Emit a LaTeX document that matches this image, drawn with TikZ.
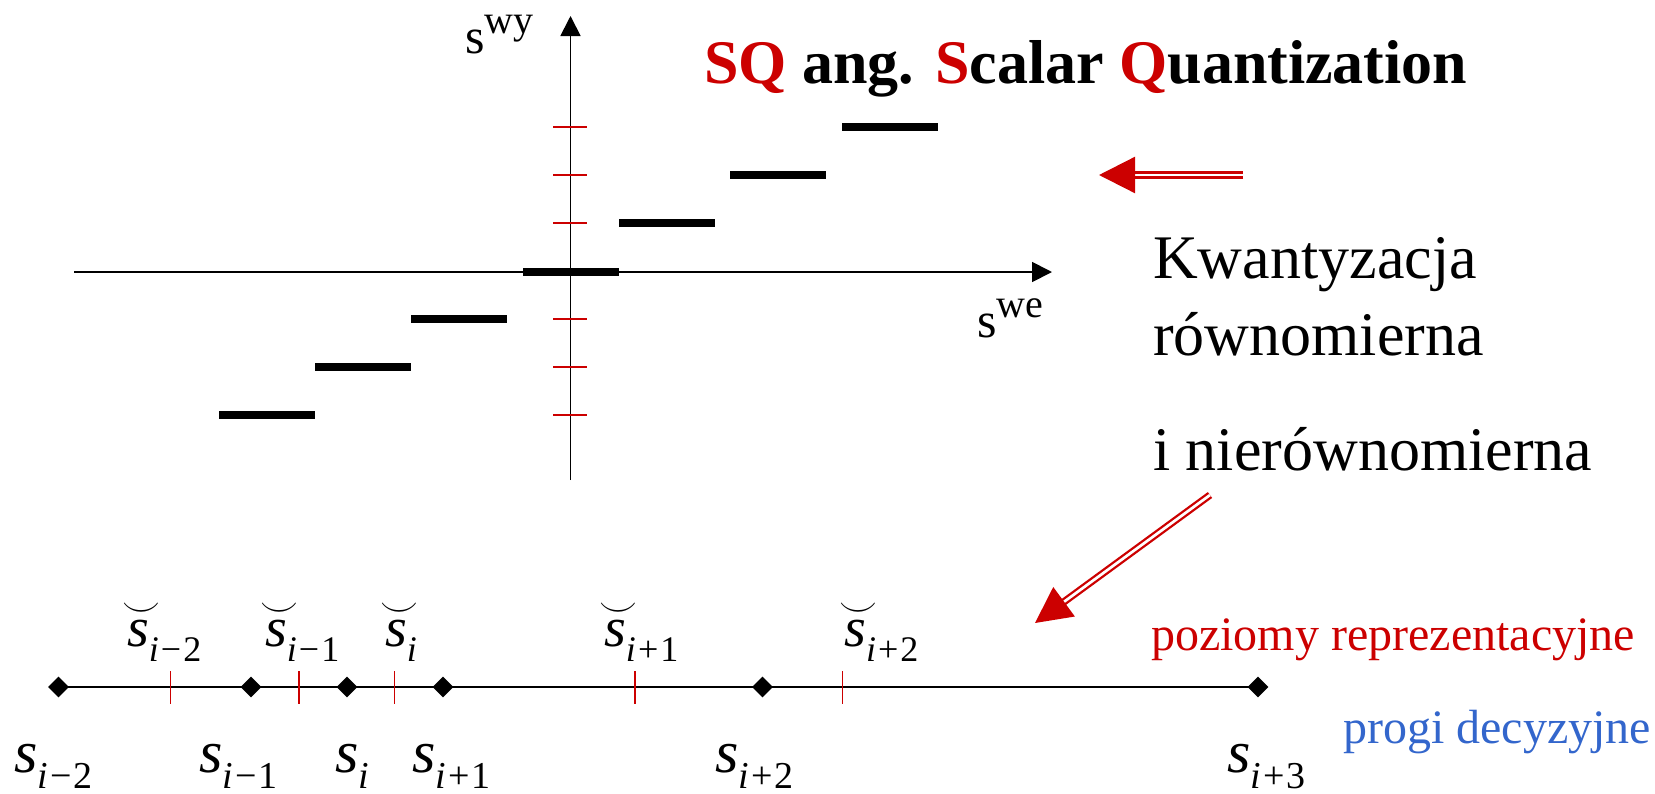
\RequirePackage{fix-cm}
\documentclass[tikz,border=0pt]{standalone}
\usepackage[no-math]{fontspec}
\setmainfont{Liberation Serif}
\usepackage{tikz}
\usetikzlibrary{arrows.meta, shapes.geometric}

\definecolor{sqred}{RGB}{204,0,0}
\definecolor{progblue}{RGB}{51,102,204}

\newcommand{\bigtxt}{\fontsize{62}{74}\selectfont}
\newcommand{\axtxt}{\fontsize{50}{60}\selectfont}
\newcommand{\smalltxt}{\fontsize{48}{58}\selectfont}
\newcommand{\supr}[1]{\raisebox{20pt}{\fontsize{40}{44}\selectfont #1}}
% representation level (s with breve) and decision threshold (s)
\newcommand{\repl}[1]{{\fontsize{56}{60}\selectfont
  $\stackrel{\makebox[0pt]{\hspace{6pt}$\scriptstyle\smile$}}{\mbox{\itshape s}}$%
  \raisebox{-15pt}{\fontsize{36}{40}\selectfont #1}}}
\newcommand{\thrl}[1]{{\fontsize{60}{66}\selectfont
  \textit{s}\raisebox{-16pt}{\fontsize{38}{42}\selectfont #1}}}
\newcommand{\mn}{\kern2pt−\kern2pt}
\newcommand{\pl}{\kern2pt+\kern2pt}

\tikzset{
  axis/.style={line width=1.8pt, -{Triangle[length=20pt, width=20pt]}},
  redtick/.style={sqred, line width=1.6pt},
  stepbar/.style={line width=8pt},
  redarrow/.style={sqred, double=white, double distance=2.7pt, line width=2.3pt,
    -{Triangle[length=36pt, width=36pt]}},
  thr/.style={diamond, fill=black, inner sep=0pt, minimum size=21pt},
  lab/.style={anchor=base west, inner sep=0pt},
}

\begin{document}
\begin{tikzpicture}[x=1pt, y=-1pt]
  \useasboundingbox (0,0) rectangle (1655,793);

  % Axes of the quantizer characteristic
  \coordinate (xa0) at (74,272);
  \coordinate (xa1) at (1052,272);
  \coordinate (ya0) at (570.5,480);
  \coordinate (ya1) at (570.5,16);
  \draw[axis] (xa0) -- (xa1);
  \draw[axis] (ya0) -- (ya1);
  \node[lab, font=\axtxt] (swy) at (465,53) {s\supr{wy}};
  \node[lab, font=\axtxt] (swe) at (977,337) {s\supr{we}};

  % Output levels on the vertical axis
  \foreach \y in {127,175,223,319,367,415}
    \draw[redtick] (553,\y) -- (587,\y);

  % Staircase
  \foreach \xa/\y in {219/415, 315/367, 411/319, 523/272, 619/223, 730/175, 842/127}
    \draw[stepbar] (\xa,\y) -- ++(96,0);

  % Title
  \node[lab, font=\bigtxt\bfseries] (title) at (704,83)
    {\textcolor{sqred}{SQ} ang. \textcolor{sqred}{S}calar \textcolor{sqred}{Q}uantization};

  % Side text and arrows
  \node[lab, font=\bigtxt] (kw1) at (1153,278) {Kwantyzacja};
  \node[lab, font=\bigtxt] (kw2) at (1153,355) {równomierna};
  \node[lab, font=\bigtxt] (kw3) at (1153,470) {i nierównomierna};

  \coordinate (ha0) at (1243,175);
  \coordinate (ha1) at (1099,175);
  \draw[redarrow] (ha0) -- (ha1);
  \coordinate (da0) at (1210,495);
  \coordinate (da1) at (1035,623);
  \draw[redarrow] (da0) -- (da1);

  % Decision thresholds and representation levels
  \foreach \n/\x in {0/58.5, 1/251, 2/347, 3/443, 4/762.5, 5/1258}
    \node[thr] (d\n) at (\x,687) {};
  \draw[line width=2pt] (d0.center) -- (d5.center);
  \foreach \x in {170.5, 299, 394.5, 635, 842.5}
    \draw[redtick] (\x,671) -- (\x,704);

  \node[lab] (r1) at (127,646) {\repl{\textit{i}\mn 2}};
  \node[lab] (r2) at (265,646) {\repl{\textit{i}\mn 1}};
  \node[lab] (r3) at (385,646) {\repl{\textit{i}}};
  \node[lab] (r4) at (604,646) {\repl{\textit{i}\pl 1}};
  \node[lab] (r5) at (844,646) {\repl{\textit{i}\pl 2}};

  \node[lab] (t1) at (14,772) {\thrl{\textit{i}\mn 2}};
  \node[lab] (t2) at (199,772) {\thrl{\textit{i}\mn 1}};
  \node[lab] (t3) at (335,772) {\thrl{\textit{i}}};
  \node[lab] (t4) at (412,772) {\thrl{\textit{i}\pl 1}};
  \node[lab] (t5) at (715,772) {\thrl{\textit{i}\pl 2}};
  \node[lab] (t6) at (1227,772) {\thrl{\textit{i}\pl 3}};

  \node[lab, font=\smalltxt, text=sqred] (poz) at (1151,650) {poziomy reprezentacyjne};
  \node[lab, font=\smalltxt, text=progblue] (prog) at (1343,743) {progi decyzyjne};

\end{tikzpicture}
\end{document}
